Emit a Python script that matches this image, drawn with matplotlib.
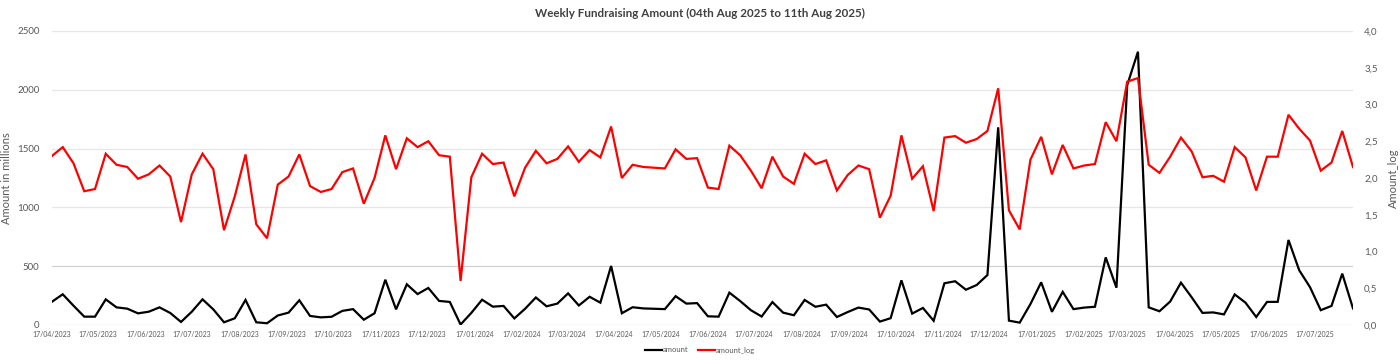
import matplotlib
matplotlib.use("Agg")
import matplotlib.pyplot as plt
import matplotlib.dates as mdates
import pandas as pd

plt.rcParams['font.family'] = ['Lato', 'DejaVu Sans']

title = "Weekly Fundraising Amount (04th Aug 2025 to 11th Aug 2025)"
start_date = "2023-04-17"
n_weeks = 122

amount = [198, 261, 164, 71, 71, 218, 150, 139, 99, 113,
          150, 102, 26, 113, 218, 133, 23, 57, 213, 23,
          15, 81, 105, 210, 77, 65, 70, 120, 135, 45,
          100, 385, 133, 346, 263, 315, 205, 196, 4, 103,
          215, 156, 162, 56, 138, 234, 159, 182, 269, 166,
          240, 190, 502, 100, 151, 141, 138, 135, 245, 182,
          186, 74, 71, 275, 204, 126, 72, 195, 105, 83,
          213, 155, 173, 68, 110, 148, 132, 29, 58, 380,
          97, 145, 36, 355, 372, 300, 340, 425, 1681, 37,
          20, 178, 363, 112, 282, 135, 148, 155, 575, 317,
          2040, 2324, 150, 117, 200, 360, 235, 103, 107, 90,
          260, 190, 68, 196, 197, 723, 465, 322, 126, 162,
          437, 141]

amount_log = [2.30, 2.42, 2.20, 1.82, 1.85, 2.33, 2.18, 2.15, 1.99, 2.05,
              2.17, 2.02, 1.40, 2.05, 2.33, 2.12, 1.29, 1.75, 2.32, 1.37,
              1.18, 1.91, 2.02, 2.32, 1.89, 1.81, 1.85, 2.08, 2.13, 1.65,
              2.00, 2.58, 2.12, 2.54, 2.42, 2.50, 2.31, 2.29, 0.60, 2.01,
              2.33, 2.19, 2.21, 1.75, 2.14, 2.37, 2.20, 2.26, 2.43, 2.22,
              2.38, 2.28, 2.70, 2.00, 2.18, 2.15, 2.14, 2.13, 2.39, 2.26,
              2.27, 1.87, 1.85, 2.44, 2.31, 2.10, 1.86, 2.29, 2.02, 1.92,
              2.33, 2.19, 2.24, 1.83, 2.04, 2.17, 2.12, 1.46, 1.76, 2.58,
              1.99, 2.16, 1.55, 2.55, 2.57, 2.48, 2.53, 2.64, 3.22, 1.56,
              1.30, 2.25, 2.56, 2.05, 2.45, 2.13, 2.17, 2.19, 2.76, 2.50,
              3.31, 3.36, 2.18, 2.07, 2.29, 2.55, 2.36, 2.01, 2.03, 1.95,
              2.42, 2.28, 1.83, 2.29, 2.29, 2.86, 2.67, 2.51, 2.10, 2.21,
              2.64, 2.15]

left_ticks = [0, 500, 1000, 1500, 2000, 2500]
right_ticks = [0.0, 0.5, 1.0, 1.5, 2.0, 2.5, 3.0, 3.5, 4.0]
right_tick_labels = ["0,0", "0,5", "1,0", "1,5", "2,0", "2,5", "3,0", "3,5", "4,0"]
month_tick_start = "2023-04-17"
month_tick_end = "2025-07-17"

dates = pd.date_range(start_date, periods=n_weeks, freq="7D")
month_ticks = pd.date_range(month_tick_start, month_tick_end, freq=pd.DateOffset(months=1))

fig = plt.figure(figsize=(14, 3.6), dpi=100)
ax = fig.add_axes([52/1400, 1-325/360, (1353-52)/1400, (325-31)/360])
ax2 = ax.twinx()

tick_color = "#595959"
grid_color = "#e6e6e6"

l1, = ax.plot(dates, amount, color="black", lw=1.6, label="amount", solid_joinstyle="miter")
l2, = ax2.plot(dates, amount_log, color="#ff0000", lw=1.6, label="amount_log", solid_joinstyle="miter")

ax.set_xlim(dates[0], dates[-1])
ax.set_ylim(0, 2500)
ax2.set_ylim(0, 4.0)
ax.set_yticks(left_ticks)
ax.set_yticklabels([str(v) for v in left_ticks])
ax2.set_yticks(right_ticks)
ax2.set_yticklabels(right_tick_labels)

for v in left_ticks:
    c = "#d0d0d0" if v in (0, 500) else grid_color
    ax.axhline(v, color=c, lw=0.9, zorder=0)

ax.set_xticks(month_ticks)
ax.xaxis.set_major_formatter(mdates.DateFormatter("%d/%m/%Y"))
ax.tick_params(axis="x", length=0, labelsize=5, colors=tick_color, pad=4)
ax.tick_params(axis="y", length=0, labelsize=7, colors=tick_color, pad=9)
ax2.tick_params(axis="y", length=0, labelsize=7, colors=tick_color, pad=8)

for a in (ax, ax2):
    for s in a.spines.values():
        s.set_visible(False)

ax.set_ylabel("Amount in millions", fontsize=8, color=tick_color)
ax.yaxis.set_label_coords((12 - 52) / 1301, 0.5)
ax2.set_ylabel("Amount_log", fontsize=8, color=tick_color)
ax2.yaxis.set_label_coords((1388 - 52) / 1301, 0.5)

fig.text(0.5, 1 - 13/360, title, ha="center", va="center", fontsize=8.4,
         fontweight="bold", color="#404040")

fig.legend([l1, l2], ["amount", "amount_log"], loc="center", bbox_to_anchor=(0.5, 10/360),
           ncol=2, frameon=False, fontsize=5.5, handlelength=2.2, handletextpad=0.15,
           columnspacing=1.2, labelcolor=tick_color)

fig.savefig("out.png", dpi=100, facecolor="white")
